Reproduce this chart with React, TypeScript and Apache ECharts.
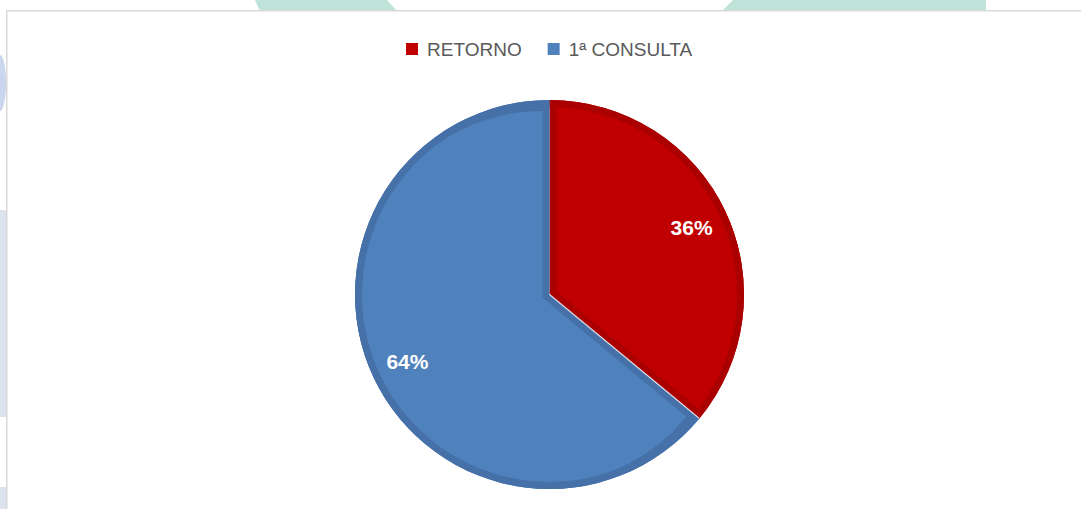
import React, { useEffect, useRef } from "react";
import * as echarts from "echarts";

const categories = ["RETORNO", "1ª CONSULTA"];
const percentages = [36, 64];
const fillColors = ["#c00000", "#4f81bd"];
const bandColors = ["#ab0000", "#4570a8"];

const CX = 549.5;
const CY = 294.5;
const R = 194.5;
const BAND = 7;

export default function App() {
  const ref = useRef<HTMLDivElement>(null);

  useEffect(() => {
    if (!ref.current) return;
    const chart = echarts.init(ref.current, undefined, { renderer: "svg" });

    const total = percentages.reduce((a, b) => a + b, 0);
    const firstAngle = (Math.PI * 2 * percentages[0]) / total;
    const insetOffset = BAND / Math.sin(firstAngle / 2);
    const firstArcLen = R * firstAngle;

    const baseData = categories.map((name, i) => ({
      name,
      value: percentages[i],
    }));

    const option: any = {
      animation: false,
      backgroundColor: "#ffffff",
      graphic: [
        {
          type: "polygon",
          silent: true,
          z: 0,
          shape: { points: [[255, 0], [387, 0], [397, 11], [260, 11]] },
          style: { fill: "#bfe3d9" },
        },
        {
          type: "polygon",
          silent: true,
          z: 0,
          shape: { points: [[733, 0], [986, 0], [986, 11], [722, 11]] },
          style: { fill: "#bfe3d9" },
        },
        {
          type: "ellipse",
          silent: true,
          z: 0,
          shape: { cx: 0, cy: 83, rx: 6, ry: 28 },
          style: { fill: "#c9d6ee" },
        },
        {
          type: "rect",
          silent: true,
          z: 0,
          shape: { x: 0, y: 210, width: 7, height: 207 },
          style: { fill: "#dce3ec" },
        },
        {
          type: "rect",
          silent: true,
          z: 0,
          shape: { x: 0, y: 487, width: 7, height: 22 },
          style: { fill: "#dce3ec" },
        },
        {
          type: "rect",
          silent: true,
          z: 1,
          shape: { x: 6.75, y: 10.75, width: 1200, height: 600 },
          style: { fill: "#ffffff", stroke: "#d9d9d9", lineWidth: 1.5 },
        },
      ],
      legend: {
        left: 406,
        top: 39,
        padding: 0,
        icon: "rect",
        itemWidth: 12,
        itemHeight: 12,
        itemGap: 26,
        selectedMode: false,
        textStyle: {
          fontFamily: "Liberation Sans",
          fontSize: 19,
          color: "#595959",
          lineHeight: 20,
          padding: [0, 0, 0, 4],
        },
        data: categories.map((name, i) => ({
          name,
          itemStyle: { color: fillColors[i] },
        })),
      },
      series: [
        {
          type: "pie",
          name: "band",
          z: 2,
          silent: true,
          center: [CX, CY],
          radius: [0, R],
          startAngle: 90,
          clockwise: true,
          label: { show: false },
          labelLine: { show: false },
          emphasis: { scale: false },
          itemStyle: { borderWidth: 0 },
          data: baseData.map((d, i) => ({
            ...d,
            itemStyle: { color: bandColors[i] },
          })),
        },
        {
          type: "pie",
          name: "fill",
          z: 3,
          silent: true,
          center: [CX, CY],
          radius: [0, R - insetOffset],
          startAngle: 90,
          clockwise: true,
          selectedMode: "multiple",
          selectedOffset: insetOffset,
          label: { show: false },
          labelLine: { show: false },
          emphasis: { scale: false },
          select: { itemStyle: { borderWidth: 0 } },
          itemStyle: { borderWidth: 0 },
          data: baseData.map((d, i) => ({
            ...d,
            selected: true,
            itemStyle: { color: fillColors[i] },
            select: { itemStyle: { color: fillColors[i], borderWidth: 0 } },
          })),
        },
        {
          type: "pie",
          name: "rim",
          z: 4,
          silent: true,
          center: [CX, CY],
          radius: [R - BAND, R],
          startAngle: 90,
          clockwise: true,
          label: { show: false },
          labelLine: { show: false },
          emphasis: { scale: false },
          itemStyle: { borderWidth: 0 },
          data: baseData.map((d, i) => ({
            ...d,
            itemStyle: { color: bandColors[i] },
          })),
        },
        {
          type: "pie",
          name: "separator",
          z: 5,
          silent: true,
          center: [CX, CY],
          radius: [0, R],
          startAngle: 90,
          clockwise: true,
          label: { show: false },
          labelLine: { show: false },
          emphasis: { scale: false },
          data: baseData.map((d, i) => ({
            ...d,
            itemStyle:
              i === 0
                ? {
                    color: "rgba(0,0,0,0)",
                    borderColor: "rgba(222,226,234,0.95)",
                    borderWidth: 1.2,
                    borderType: [0, firstArcLen, R, 4000],
                  }
                : { color: "rgba(0,0,0,0)", borderWidth: 0 },
          })),
        },
        {
          type: "pie",
          name: "labels",
          z: 6,
          silent: true,
          center: [CX, CY],
          radius: [113.5, R],
          startAngle: 90,
          clockwise: true,
          percentPrecision: 0,
          labelLine: { show: false },
          emphasis: { scale: false },
          itemStyle: { color: "rgba(0,0,0,0)", borderWidth: 0 },
          label: {
            show: true,
            position: "inside",
            formatter: "{d}%",
            color: "#ffffff",
            fontFamily: "Liberation Sans",
            fontWeight: "bold",
            fontSize: 21,
          },
          data: baseData,
        },
      ],
    };

    chart.setOption(option);
    return () => chart.dispose();
  }, []);

  return (
    <div
      ref={ref}
      style={{ position: "fixed", left: 0, top: 0, width: 1081, height: 509 }}
    />
  );
}
